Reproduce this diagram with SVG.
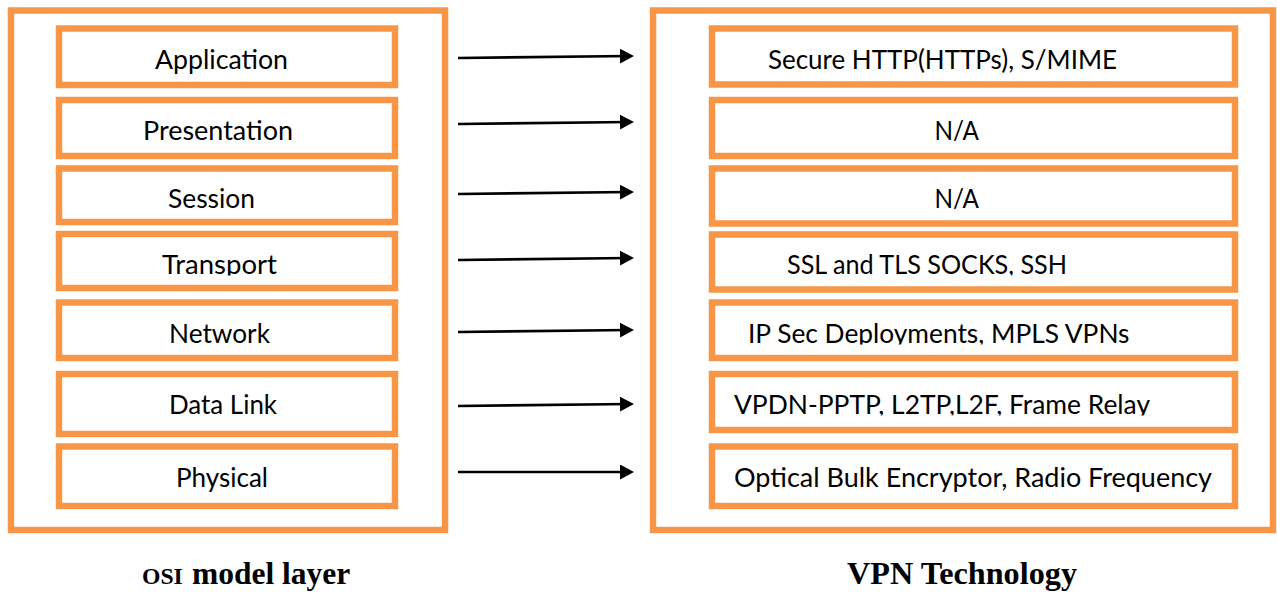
<svg xmlns="http://www.w3.org/2000/svg" width="1277" height="592" viewBox="0 0 1277 592">
<style>
.outer{fill:#fff;stroke:#F79646;stroke-width:6.5}
.box{fill:#fff;stroke:#F79646;stroke-width:6.5}
.t{font-family:Lato,"Liberation Sans",sans-serif;font-size:26.5px;fill:#000}
.conn line{stroke:#000;stroke-width:2.6}
.cap{font-family:"Liberation Serif","Times New Roman",serif;font-weight:bold;font-size:31.5px;fill:#000}
</style>
<defs>
<marker id="ah" markerUnits="userSpaceOnUse" markerWidth="14" markerHeight="15" viewBox="0 0 14 15" refX="10" refY="7.5" orient="auto">
<path d="M0,0 L14,7.5 L0,15 Z" fill="#000"/>
</marker>
<clipPath id="c4"><rect x="0" y="230" width="1277" height="45.5"/></clipPath>
<clipPath id="c5"><rect x="0" y="300" width="1277" height="44.5"/></clipPath>
<clipPath id="c6"><rect x="0" y="370" width="1277" height="45.5"/></clipPath>
</defs>
<rect x="0" y="0" width="1277" height="592" fill="#fff"/>
<g id="osi-frame"><rect class="outer" x="11" y="10.5" width="434" height="519.5"/></g>
<g id="vpn-frame"><rect class="outer" x="653" y="10.5" width="620" height="519.5"/></g>

<g id="osi-application"><rect class="box" x="59" y="28.5" width="336" height="56.5"/><text class="t" x="155" y="69" textLength="133" lengthAdjust="spacingAndGlyphs">Application</text></g>
<g id="osi-presentation"><rect class="box" x="59" y="100" width="336" height="56"/><text class="t" x="143" y="140" textLength="150" lengthAdjust="spacingAndGlyphs">Presentation</text></g>
<g id="osi-session"><rect class="box" x="59" y="168.5" width="336" height="53.5"/><text class="t" x="168" y="208" textLength="87" lengthAdjust="spacingAndGlyphs">Session</text></g>
<g id="osi-transport"><rect class="box" x="59" y="234" width="336" height="54"/><text class="t" x="162" y="274" textLength="115" lengthAdjust="spacingAndGlyphs" clip-path="url(#c4)">Transport</text></g>
<g id="osi-network"><rect class="box" x="59" y="302.5" width="336" height="55.5"/><text class="t" x="169" y="343" textLength="101" lengthAdjust="spacingAndGlyphs">Network</text></g>
<g id="osi-datalink"><rect class="box" x="59" y="374" width="336" height="60"/><text class="t" x="169" y="414" textLength="108" lengthAdjust="spacingAndGlyphs">Data Link</text></g>
<g id="osi-physical"><rect class="box" x="59" y="446.5" width="336" height="59.5"/><text class="t" x="176" y="487" textLength="92" lengthAdjust="spacingAndGlyphs">Physical</text></g>

<g id="vpn-application"><rect class="box" x="712" y="28.5" width="523" height="56"/><text class="t" x="768" y="69" textLength="349" lengthAdjust="spacingAndGlyphs">Secure HTTP(HTTPs), S/MIME</text></g>
<g id="vpn-presentation"><rect class="box" x="712" y="100" width="523" height="56"/><text class="t" x="934.5" y="140" textLength="44.5" lengthAdjust="spacingAndGlyphs">N/A</text></g>
<g id="vpn-session"><rect class="box" x="712" y="168.5" width="523" height="55"/><text class="t" x="934.5" y="208" textLength="44.5" lengthAdjust="spacingAndGlyphs">N/A</text></g>
<g id="vpn-transport"><rect class="box" x="712" y="234.5" width="523" height="55"/><text class="t" x="787" y="274" textLength="280" lengthAdjust="spacingAndGlyphs" clip-path="url(#c4)">SSL and TLS SOCKS, SSH</text></g>
<g id="vpn-network"><rect class="box" x="712" y="302.5" width="523" height="55.5"/><text class="t" x="748" y="343" textLength="381.5" lengthAdjust="spacingAndGlyphs" clip-path="url(#c5)">IP Sec Deployments, MPLS VPNs</text></g>
<g id="vpn-datalink"><rect class="box" x="712" y="374" width="523" height="56"/><text class="t" x="734" y="414" textLength="416" lengthAdjust="spacingAndGlyphs" clip-path="url(#c6)">VPDN-PPTP, L2TP,L2F, Frame Relay</text></g>
<g id="vpn-physical"><rect class="box" x="712" y="446.5" width="523" height="59.5"/><text class="t" x="734" y="487" textLength="478" lengthAdjust="spacingAndGlyphs">Optical Bulk Encryptor, Radio Frequency</text></g>

<g id="connectors" class="conn">
<line x1="458" y1="58" x2="630" y2="56" marker-end="url(#ah)"/>
<line x1="458" y1="124" x2="630" y2="122" marker-end="url(#ah)"/>
<line x1="458" y1="194" x2="630" y2="192" marker-end="url(#ah)"/>
<line x1="458" y1="260" x2="630" y2="258" marker-end="url(#ah)"/>
<line x1="458" y1="332" x2="630" y2="330" marker-end="url(#ah)"/>
<line x1="458" y1="406" x2="630" y2="404" marker-end="url(#ah)"/>
<line x1="458" y1="472" x2="630" y2="472" marker-end="url(#ah)"/>
</g>

<g id="caption-osi"><text class="cap" x="142" y="584"><tspan font-size="23.7px">OSI</tspan><tspan x="192">model layer</tspan></text></g>
<g id="caption-vpn"><text class="cap" x="847" y="584" textLength="230" lengthAdjust="spacingAndGlyphs">VPN Technology</text></g>
</svg>
